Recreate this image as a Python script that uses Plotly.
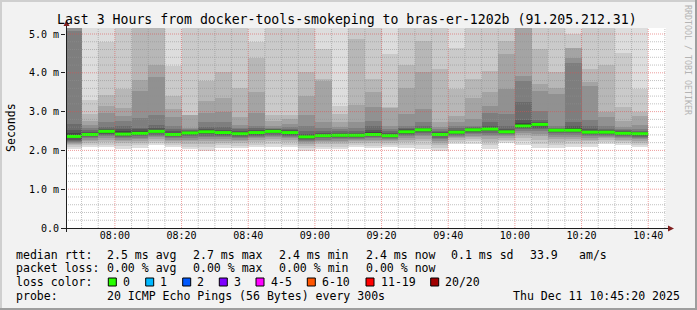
import datetime as dt
import plotly.graph_objects as go

# ---------------- data (milliseconds) ----------------
DAY = "2025-12-11"
range_start = "2025-12-11 07:45:20"
range_end = "2025-12-11 10:45:20"

slot_start = ["07:45", "07:50", "07:55", "08:00", "08:05", "08:10", "08:15",
              "08:20", "08:25", "08:30", "08:35", "08:40", "08:45", "08:50",
              "08:55", "09:00", "09:05", "09:10", "09:15", "09:20", "09:25",
              "09:30", "09:35", "09:40", "09:45", "09:50", "09:55", "10:00",
              "10:05", "10:10", "10:15", "10:20", "10:25", "10:30", "10:35"]

median_ms = [2.36, 2.41, 2.49, 2.42, 2.44, 2.49, 2.41, 2.45, 2.48, 2.46, 2.43, 2.46,
             2.49, 2.46, 2.35, 2.38, 2.39, 2.39, 2.41, 2.38, 2.48, 2.53, 2.41, 2.47,
             2.53, 2.55, 2.48, 2.63, 2.67, 2.52, 2.52, 2.47, 2.47, 2.44, 2.43]

loss_count = [0, 0, 0, 0, 0, 0, 0, 0, 0, 0, 0, 0, 0, 0, 0, 0, 0, 0,
              0, 0, 0, 0, 0, 0, 0, 0, 0, 0, 0, 0, 0, 0, 0, 0, 0]

# 20 sorted ping RTTs per 5-minute slot
p0745 = [2.03, 2.10, 2.14, 2.17, 2.20, 2.22, 2.25, 2.28, 2.31, 2.34, 2.39, 2.45, 2.52, 2.68, 5.08, 5.30, 5.45, 5.60, 5.80, 6.10]
p0750 = [2.08, 2.14, 2.20, 2.24, 2.28, 2.31, 2.34, 2.36, 2.38, 2.40, 2.43, 2.45, 2.48, 2.53, 2.58, 2.65, 2.76, 2.93, 3.30, 5.40]
p0755 = [2.08, 2.15, 2.22, 2.27, 2.32, 2.36, 2.40, 2.43, 2.45, 2.47, 2.51, 2.53, 2.56, 2.60, 2.72, 2.96, 3.15, 3.42, 4.79, 5.50]
p0800 = [2.04, 2.12, 2.18, 2.23, 2.27, 2.31, 2.34, 2.37, 2.39, 2.41, 2.46, 2.51, 2.56, 2.63, 2.77, 2.89, 3.09, 3.58, 5.30, 5.70]
p0805 = [2.05, 2.13, 2.19, 2.25, 2.29, 2.33, 2.36, 2.39, 2.41, 2.43, 2.47, 2.50, 2.54, 2.58, 2.83, 3.52, 3.82, 5.25, 5.50, 5.90]
p0810 = [2.14, 2.20, 2.25, 2.30, 2.34, 2.38, 2.41, 2.44, 2.46, 2.48, 2.51, 2.53, 2.57, 2.65, 2.91, 3.90, 4.19, 5.30, 5.60, 6.00]
p0815 = [2.08, 2.14, 2.19, 2.23, 2.27, 2.31, 2.34, 2.37, 2.39, 2.40, 2.43, 2.46, 2.49, 2.55, 2.63, 2.85, 3.06, 3.41, 4.18, 5.40]
p0820 = [2.03, 2.10, 2.17, 2.23, 2.28, 2.32, 2.36, 2.39, 2.42, 2.44, 2.46, 2.48, 2.50, 2.52, 2.55, 2.58, 2.90, 2.92, 5.25, 5.50]
p0825 = [1.98, 2.08, 2.16, 2.23, 2.29, 2.34, 2.38, 2.42, 2.45, 2.47, 2.50, 2.52, 2.55, 2.61, 2.72, 2.96, 3.28, 3.79, 5.30, 5.60]
p0830 = [2.05, 2.13, 2.20, 2.25, 2.30, 2.34, 2.38, 2.41, 2.43, 2.45, 2.48, 2.50, 2.53, 2.60, 2.72, 2.99, 3.36, 4.02, 5.30, 5.60]
p0835 = [2.05, 2.12, 2.18, 2.23, 2.28, 2.32, 2.35, 2.38, 2.40, 2.42, 2.45, 2.47, 2.50, 2.55, 2.59, 2.66, 2.87, 3.62, 5.25, 5.50]
p0840 = [2.08, 2.15, 2.21, 2.26, 2.31, 2.35, 2.38, 2.41, 2.43, 2.45, 2.48, 2.50, 2.53, 2.57, 2.64, 2.96, 3.51, 4.39, 4.79, 5.40]
p0845 = [2.08, 2.16, 2.23, 2.29, 2.34, 2.38, 2.41, 2.44, 2.46, 2.48, 2.51, 2.52, 2.54, 2.56, 2.59, 2.63, 2.76, 2.91, 5.30, 5.60]
p0850 = [2.08, 2.15, 2.21, 2.26, 2.31, 2.35, 2.38, 2.41, 2.43, 2.45, 2.48, 2.50, 2.52, 2.55, 2.60, 2.68, 2.80, 2.92, 5.25, 5.60]
p0855 = [1.98, 2.06, 2.12, 2.17, 2.21, 2.25, 2.28, 2.30, 2.32, 2.34, 2.37, 2.39, 2.42, 2.50, 2.62, 2.92, 3.41, 4.01, 5.30, 5.70]
p0900 = [2.03, 2.10, 2.16, 2.21, 2.25, 2.28, 2.31, 2.34, 2.36, 2.37, 2.40, 2.42, 2.45, 2.50, 2.57, 2.72, 3.80, 3.83, 4.62, 5.40]
p0905 = [2.03, 2.10, 2.16, 2.21, 2.25, 2.29, 2.32, 2.35, 2.37, 2.38, 2.41, 2.43, 2.45, 2.49, 2.54, 2.60, 2.72, 2.93, 3.15, 5.30]
p0910 = [2.08, 2.14, 2.19, 2.23, 2.27, 2.30, 2.33, 2.35, 2.37, 2.38, 2.41, 2.43, 2.46, 2.50, 2.58, 2.72, 3.17, 4.88, 5.30, 5.60]
p0915 = [2.05, 2.12, 2.18, 2.23, 2.27, 2.31, 2.34, 2.37, 2.39, 2.40, 2.44, 2.47, 2.52, 2.62, 2.76, 3.11, 3.51, 3.83, 5.30, 5.60]
p0920 = [2.08, 2.14, 2.19, 2.23, 2.26, 2.29, 2.32, 2.34, 2.36, 2.37, 2.40, 2.42, 2.45, 2.49, 2.55, 2.63, 3.09, 3.11, 4.48, 5.40]
p0925 = [2.05, 2.14, 2.21, 2.27, 2.32, 2.36, 2.40, 2.43, 2.45, 2.47, 2.50, 2.52, 2.55, 2.59, 2.63, 2.93, 3.62, 4.19, 5.30, 5.60]
p0930 = [2.03, 2.14, 2.23, 2.30, 2.36, 2.41, 2.45, 2.48, 2.50, 2.52, 2.55, 2.56, 2.59, 2.63, 2.72, 3.06, 4.01, 4.82, 5.30, 5.70]
p0935 = [1.99, 2.07, 2.14, 2.20, 2.25, 2.29, 2.33, 2.36, 2.38, 2.40, 2.43, 2.44, 2.47, 2.50, 2.55, 2.60, 2.72, 4.11, 5.30, 5.60]
p0940 = [2.17, 2.22, 2.27, 2.31, 2.35, 2.38, 2.41, 2.43, 2.45, 2.46, 2.49, 2.51, 2.53, 2.57, 2.63, 2.72, 2.89, 3.59, 4.65, 5.40]
p0945 = [2.16, 2.23, 2.29, 2.34, 2.38, 2.42, 2.45, 2.48, 2.50, 2.52, 2.55, 2.56, 2.57, 2.60, 2.63, 2.81, 3.34, 3.83, 5.30, 5.60]
p0950 = [2.03, 2.13, 2.22, 2.30, 2.36, 2.41, 2.45, 2.49, 2.52, 2.54, 2.57, 2.59, 2.63, 2.72, 2.96, 3.15, 3.51, 4.05, 5.30, 5.60]
p0955 = [2.18, 2.23, 2.28, 2.32, 2.36, 2.39, 2.42, 2.44, 2.46, 2.47, 2.50, 2.52, 2.56, 2.63, 2.93, 3.58, 4.48, 4.82, 5.30, 5.60]
p1000 = [2.15, 2.24, 2.32, 2.39, 2.45, 2.50, 2.54, 2.57, 2.59, 2.61, 2.67, 2.71, 2.79, 3.25, 3.79, 3.92, 5.30, 5.50, 5.70, 6.00]
p1005 = [2.05, 2.17, 2.27, 2.36, 2.43, 2.49, 2.54, 2.58, 2.62, 2.65, 2.69, 2.71, 2.73, 2.78, 3.02, 3.53, 3.71, 4.62, 5.30, 5.60]
p1010 = [2.05, 2.14, 2.22, 2.29, 2.35, 2.40, 2.44, 2.47, 2.49, 2.51, 2.54, 2.55, 2.56, 2.59, 2.63, 3.45, 3.62, 4.01, 5.30, 5.60]
p1015 = [2.08, 2.16, 2.23, 2.29, 2.35, 2.40, 2.44, 2.47, 2.49, 2.51, 2.54, 2.57, 2.63, 2.74, 4.25, 4.39, 4.63, 4.65, 4.99, 5.60]
p1020 = [2.10, 2.17, 2.23, 2.28, 2.32, 2.36, 2.39, 2.42, 2.44, 2.46, 2.49, 2.51, 2.55, 2.63, 2.79, 3.66, 3.77, 4.11, 5.30, 5.60]
p1025 = [2.17, 2.22, 2.27, 2.31, 2.35, 2.38, 2.41, 2.43, 2.45, 2.46, 2.49, 2.51, 2.53, 2.56, 2.63, 2.87, 2.99, 4.19, 5.30, 5.60]
p1030 = [2.14, 2.19, 2.24, 2.28, 2.32, 2.35, 2.38, 2.40, 2.42, 2.43, 2.46, 2.47, 2.49, 2.52, 2.56, 2.60, 2.76, 3.13, 4.52, 5.40]
p1035 = [2.08, 2.14, 2.20, 2.25, 2.29, 2.32, 2.35, 2.38, 2.40, 2.42, 2.45, 2.46, 2.48, 2.51, 2.55, 2.65, 2.89, 2.98, 3.58, 5.30]

x_tick_labels = ["08:00", "08:20", "08:40", "09:00", "09:20", "09:40", "10:00", "10:20", "10:40"]
y_tick_vals = [0, 1, 2, 3, 4, 5]
y_tick_text = ["0.0", "1.0 m", "2.0 m", "3.0 m", "4.0 m", "5.0 m"]
y_max = 5.155

title_text = "Last 3 Hours from docker-tools-smokeping to bras-er-1202b (91.205.212.31)"
rtt_stats = ["2.5 ms avg", "2.7 ms max", "2.4 ms min", "2.4 ms now", "0.1 ms sd", "33.9", "am/s"]
loss_stats = ["0.00 % avg", "0.00 % max", "0.00 % min", "0.00 % now"]
loss_labels = ["0", "1", "2", "3", "4-5", "6-10", "11-19", "20/20"]
loss_colors = ["#26ff00", "#00b8ff", "#0059ff", "#7e00ff", "#ff00ff", "#ff5500", "#ff0000", "#a00000"]
loss_upper = [0, 1, 2, 3, 5, 10, 19, 20]
probe_text = "20 ICMP Echo Pings (56 Bytes) every 300s"
stamp_text = "Thu Dec 11 10:45:20 2025"

pings = [p0745, p0750, p0755, p0800, p0805, p0810, p0815, p0820, p0825, p0830,
         p0835, p0840, p0845, p0850, p0855, p0900, p0905, p0910, p0915, p0920,
         p0925, p0930, p0935, p0940, p0945, p0950, p0955, p1000, p1005, p1010,
         p1015, p1020, p1025, p1030, p1035]

# ---------------- geometry ----------------
W, H = 697, 310
L, T, PW, PH = 66, 28, 600, 200
FONT = "DejaVu Sans Mono"


def fx(px):
    return (px - L) / PW


def fy(py):
    return (T + PH - py) / PH


def ts(hm):
    return dt.datetime.strptime(f"{DAY} {hm}", "%Y-%m-%d %H:%M")


STEP = dt.timedelta(minutes=5)
starts = [ts(s) for s in slot_start]
centers = [s + STEP / 2 for s in starts]

fig = go.Figure()

# smoke: nested bands between ping k and ping (21-k)
n = len(pings[0])
half = n // 2
for k in range(half):
    lo = [p[k] for p in pings]
    hi = [p[n - 1 - k] for p in pings]
    g = int(190 / half * (half - (k + 1))) + 50
    fig.add_trace(go.Bar(
        x=centers, y=[h - l for h, l in zip(hi, lo)], base=lo,
        width=STEP.total_seconds() * 1000,
        marker=dict(color=f"rgb({g},{g},{g})", line=dict(width=0)),
        hoverinfo="skip", showlegend=False))

# median line, coloured by loss class
def loss_class(c):
    for i, up in enumerate(loss_upper):
        if c <= up:
            return i
    return len(loss_upper) - 1


for ci, col in enumerate(loss_colors):
    xs, ys = [], []
    for s, m, lc in zip(starts, median_ms, loss_count):
        if loss_class(lc) == ci:
            xs += [s, s + STEP, None]
            ys += [m, m, None]
    if xs:
        fig.add_trace(go.Scatter(x=xs, y=ys, mode="lines",
                                 line=dict(color=col, width=3),
                                 hoverinfo="skip", showlegend=False))

shapes = []
GRID = "rgba(143,143,143,0.55)"
MGRID = "rgba(222,79,79,0.55)"
DASH = "1px,1px"

# vertical grid (every 5 min), major at tick labels
t0 = dt.datetime.strptime(range_start, "%Y-%m-%d %H:%M:%S")
t1 = dt.datetime.strptime(range_end, "%Y-%m-%d %H:%M:%S")
major_times = [ts(s) for s in x_tick_labels]
t = ts("07:45")
while t <= t1:
    if t >= t0:
        col = MGRID if t in major_times else GRID
        shapes.append(dict(type="line", xref="x", yref="paper", x0=t, x1=t, y0=0, y1=1,
                           line=dict(color=col, width=1, dash=DASH), layer="above"))
    t += STEP

# horizontal grid (every 0.2 ms), major at labelled ticks
for i in range(1, int(y_max / 0.2) + 1):
    v = round(i * 0.2, 3)
    major = abs(v - round(v)) < 1e-6
    shapes.append(dict(type="line", xref="paper", yref="y", x0=0, x1=1, y0=v, y1=v,
                       line=dict(color=MGRID if major else GRID, width=1, dash=DASH), layer="above"))

AX = "#1f1f1f"
ARROW = "#801f1f"
# axes lines
shapes.append(dict(type="line", xref="paper", yref="paper", x0=fx(62), x1=fx(669), y0=fy(228.5), y1=fy(228.5),
                   line=dict(color=AX, width=1), layer="above"))
shapes.append(dict(type="line", xref="paper", yref="paper", x0=fx(66.5), x1=fx(66.5), y0=fy(232), y1=fy(25),
                   line=dict(color=AX, width=1), layer="above"))
# arrows
shapes.append(dict(type="path", xref="paper", yref="paper",
                   path=f"M {fx(668)},{fy(225.5)} L {fx(674)},{fy(228.5)} L {fx(668)},{fy(231.5)} Z",
                   fillcolor=ARROW, line=dict(width=0), layer="above"))
shapes.append(dict(type="path", xref="paper", yref="paper",
                   path=f"M {fx(63.5)},{fy(26)} L {fx(66.5)},{fy(20)} L {fx(69.5)},{fy(26)} Z",
                   fillcolor=ARROW, line=dict(width=0), layer="above"))
# frame
shapes.append(dict(type="line", xref="paper", yref="paper", x0=fx(0), x1=fx(W), y0=fy(1), y1=fy(1),
                   line=dict(color="#cfcfcf", width=2), layer="above"))
shapes.append(dict(type="line", xref="paper", yref="paper", x0=fx(1), x1=fx(1), y0=fy(0), y1=fy(H),
                   line=dict(color="#cfcfcf", width=2), layer="above"))
shapes.append(dict(type="line", xref="paper", yref="paper", x0=fx(0), x1=fx(W), y0=fy(H - 1), y1=fy(H - 1),
                   line=dict(color="#9e9e9e", width=2), layer="above"))
shapes.append(dict(type="line", xref="paper", yref="paper", x0=fx(W - 1), x1=fx(W - 1), y0=fy(0), y1=fy(H),
                   line=dict(color="#9e9e9e", width=2), layer="above"))

annotations = []


def text(s, px, py, size=11.55, xanchor="left", color="black", angle=0):
    annotations.append(dict(text=s, xref="paper", yref="paper", x=fx(px), y=fy(py),
                            xanchor=xanchor, yanchor="middle", showarrow=False,
                            textangle=angle, borderpad=0, borderwidth=0,
                            font=dict(family=FONT, size=size, color=color)))


text(title_text, 347, 19.5, size=13.2, xanchor="center")
text("Seconds", 11, 128, xanchor="center", angle=-90)
text("RRDTOOL / TOBI OETIKER", 688, 60, size=8.3, xanchor="center", color="#b4b4b4", angle=90)

stat_x = [107.3, 193.3, 279.3, 366, 451, 530, 579.3]
text("median rtt:", 16, 254.5)
for s, x in zip(rtt_stats, stat_x):
    text(s, x, 254.5)
text("packet loss:", 16, 268.3)
for s, x in zip(loss_stats, stat_x):
    text(s, x, 268.3)
text("loss color:", 16, 282.2)
box_x = [108.3, 145.7, 182.7, 219.3, 256, 307.3, 366, 430.7]
for lab, col, bx in zip(loss_labels, loss_colors, box_x):
    shapes.append(dict(type="rect", xref="paper", yref="paper",
                       x0=fx(bx), x1=fx(bx + 8), y0=fy(286), y1=fy(278),
                       fillcolor=col, line=dict(color="black", width=1), layer="above"))
    text(lab, bx + 14.7, 282.2)
text("probe:", 16, 296.2)
text(probe_text, 107.3, 296.2)
text(stamp_text, 680, 296.2, xanchor="right")

fig.update_layout(
    width=W, height=H, autosize=False,
    margin=dict(l=L, r=W - L - PW, t=T, b=H - T - PH, pad=0),
    paper_bgcolor="#f2f2f2", plot_bgcolor="#ffffff",
    barmode="overlay", bargap=0,
    showlegend=False,
    shapes=shapes, annotations=annotations,
    xaxis=dict(type="date", range=[range_start, range_end],
               tickvals=[ts(s) for s in x_tick_labels], ticktext=x_tick_labels,
               showgrid=False, zeroline=False, showline=False, ticks="",
               tickfont=dict(family=FONT, size=10, color="black")),
    yaxis=dict(range=[0, y_max], tickvals=y_tick_vals, ticktext=y_tick_text,
               showgrid=False, zeroline=False, showline=False,
               ticks="outside", ticklen=4, tickcolor=AX, tickwidth=1,
               tickfont=dict(family=FONT, size=10, color="black")),
)

fig.write_html("out.html")
